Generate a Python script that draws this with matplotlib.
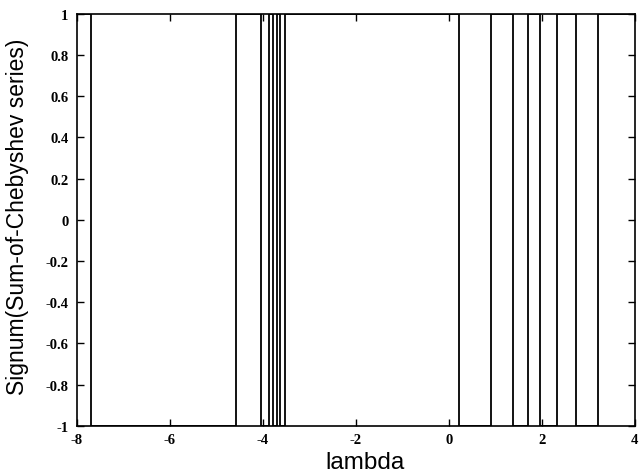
import matplotlib
matplotlib.use("Agg")
import matplotlib.pyplot as plt
import numpy as np

# sign changes of the Chebyshev sum along lambda
edges = [-8, -7.70, -4.57, -4.04, -3.86, -3.78, -3.70, -3.62, -3.53,
         0.22, 0.90, 1.37, 1.71, 1.97, 2.32, 2.73, 3.21, 4]
signs = [1, -1, 1, -1, 1, -1, 1, -1, 1, -1, 1, -1, 1, -1, 1, -1, 1]

x_ticks = [-8, -6, -4, -2, 0, 2, 4]
y_ticks = [-1, -0.8, -0.6, -0.4, -0.2, 0, 0.2, 0.4, 0.6, 0.8, 1]

fig = plt.figure(figsize=(6.4, 4.77), dpi=100)
ax = fig.add_axes([0.120, 0.105, 0.872, 0.864])

ax.step(edges, signs + [signs[-1]], where='post', color='black', linewidth=1.3)

ax.set_xlim(-8, 4)
ax.set_ylim(-1, 1)
ax.set_xticks(x_ticks)
ax.set_yticks(y_ticks)
ax.set_xticklabels([f'{v:g}' for v in x_ticks])
ax.set_yticklabels([f'{v:g}' for v in y_ticks])
ax.tick_params(direction='in', top=True, right=True, length=5, width=1)
ax.tick_params(axis='y', pad=6)
ax.tick_params(axis='x', pad=5)
for lab in ax.get_xticklabels() + ax.get_yticklabels():
    lab.set_fontfamily('Liberation Serif')
    lab.set_fontweight('bold')
    lab.set_fontsize(10.5)
for sp in ax.spines.values():
    sp.set_linewidth(1.2)

ax.set_xlabel('lambda', fontfamily='Liberation Sans', fontsize=17.5)
ax.xaxis.set_label_coords(0.516, -0.062)
ax.set_ylabel('Signum(Sum-of-Chebyshev series)', fontfamily='Liberation Sans',
              fontsize=16.5)
ax.yaxis.set_label_coords(-0.086, 0.51)

fig.savefig('out.png', dpi=100)
